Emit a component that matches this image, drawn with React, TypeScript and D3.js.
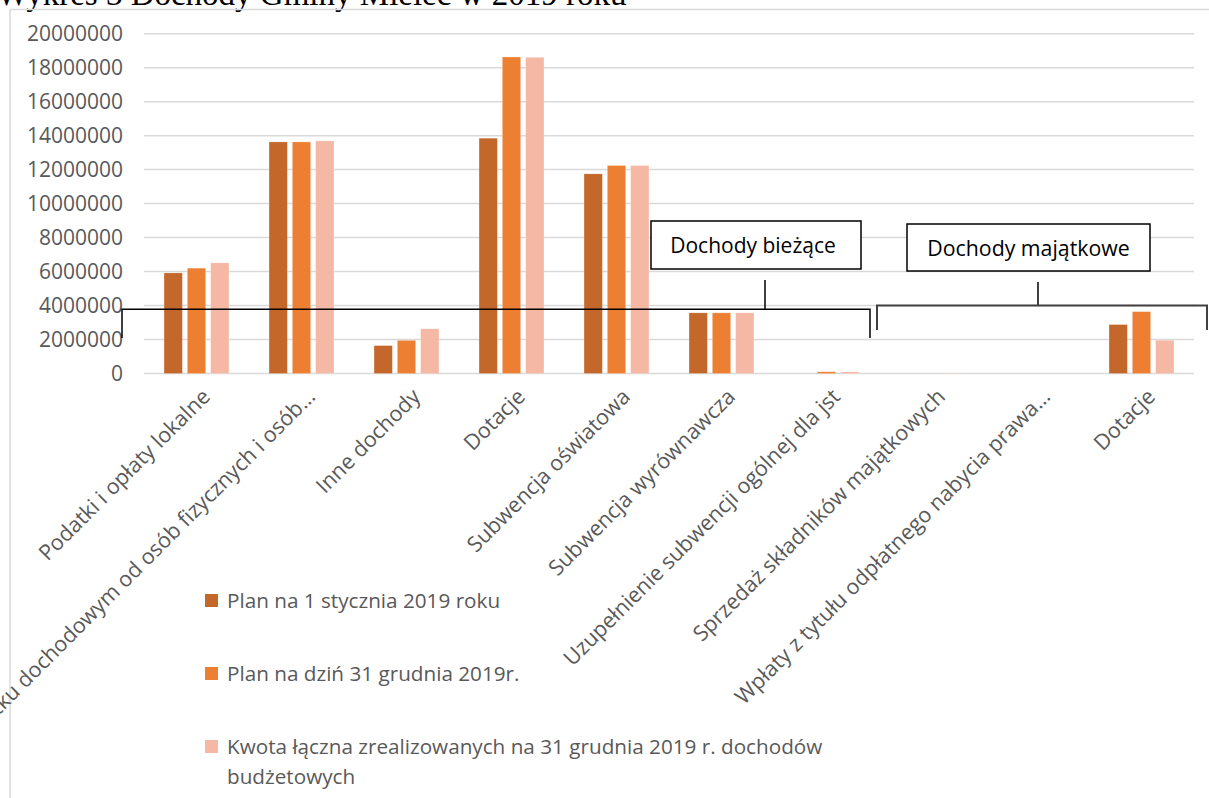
import React from "react";
import * as d3 from "d3";

const categories = [
  "Podatki i opłaty lokalne",
  "Udział w podatku dochodowym od osób fizycznych i osób…",
  "Inne dochody",
  "Dotacje",
  "Subwencja oświatowa",
  "Subwencja wyrównawcza",
  "Uzupełnienie subwencji ogólnej dla jst",
  "Sprzedaż składników majątkowych",
  "Wpłaty z tytułu odpłatnego nabycia prawa…",
  "Dotacje",
];

const planStart = [5920000, 13630000, 1640000, 13850000, 11750000, 3570000, 0, 0, 0, 2880000];
const planEnd = [6200000, 13630000, 1950000, 18630000, 12240000, 3570000, 100000, 0, 0, 3640000];
const realized = [6510000, 13690000, 2630000, 18610000, 12240000, 3570000, 95000, 20000, 0, 1960000];

const seriesNames = [
  "Plan na 1 stycznia 2019 roku",
  "Plan na dziń 31 grudnia 2019r.",
  "Kwota łączna zrealizowanych na 31 grudnia 2019 r. dochodów budżetowych",
];
const legendLines = [
  ["Plan na 1 stycznia 2019 roku"],
  ["Plan na dziń 31 grudnia 2019r."],
  ["Kwota łączna zrealizowanych na 31 grudnia 2019 r. dochodów", "budżetowych"],
];
const seriesColors = ["#C4672A", "#ED7F33", "#F4B8A4"];
const yTicks = [0, 2000000, 4000000, 6000000, 8000000, 10000000, 12000000, 14000000, 16000000, 18000000, 20000000];

const title = "Wykres 3 Dochody Gminy Mielec w 2019 roku";
const groupLabels = ["Dochody bieżące", "Dochody majątkowe"];

const W = 1209;
const H = 798;
const FONT = "'Open Sans', 'Noto Sans', sans-serif";

export default function App() {
  const series = [planStart, planEnd, realized];
  const x = d3.scaleBand<number>().domain(d3.range(categories.length)).range([144, 1194]);
  const y = d3.scaleLinear().domain([0, 20000000]).range([373.5, 33.7]);
  const barW = 18.3;
  const pitch = 23.3;

  const cx = (i: number) => (x(i) as number) + x.bandwidth() / 2;

  return (
    <svg
      width={W}
      height={H}
      style={{ position: "absolute", left: 0, top: 0, background: "#fff" }}
      fontFamily={FONT}
    >
      {/* title (mostly cut off) */}
      <text x={-3} y={5} fontFamily="'Liberation Serif', 'Times New Roman', serif" fontSize={33} fill="#000">
        {title}
      </text>
      {/* chart frame */}
      <line x1={10} x2={W} y1={9.5} y2={9.5} stroke="#D9D9D9" strokeWidth={1.5} />
      <line x1={10} x2={10} y1={9.5} y2={H} stroke="#D9D9D9" strokeWidth={1.5} />

      {/* gridlines */}
      {yTicks.map((t) => (
        <line key={t} x1={144} x2={1194} y1={y(t)} y2={y(t)} stroke="#D9D9D9" strokeWidth={1.5} />
      ))}
      {/* y labels */}
      {yTicks.map((t) => (
        <text key={t} x={123} y={y(t)} dy="0.36em" textAnchor="end" fontSize={21} fill="#595959">
          {String(t)}
        </text>
      ))}

      {/* bars */}
      {series.map((vals, s) =>
        vals.map((v, i) => {
          if (v <= 0) return null;
          const bx = cx(i) + (s - 1) * pitch - barW / 2;
          return (
            <rect
              key={`${s}-${i}`}
              x={bx}
              y={y(v)}
              width={barW}
              height={y(0) - y(v)}
              fill={seriesColors[s]}
              stroke="#fff"
              strokeOpacity={0.35}
              strokeWidth={0.6}
            />
          );
        })
      )}

      {/* category labels */}
      {categories.map((c, i) => (
        <text
          key={i}
          transform={`translate(${cx(i) + 15},${398}) rotate(-45)`}
          textAnchor="end"
          fontSize={21.5}
          fill="#595959"
        >
          {c}
        </text>
      ))}

      {/* bracket: Dochody bieżące */}
      <g stroke="#000" strokeWidth={1.5} fill="none">
        <path d={`M122,338 V${y(3780000)} H870 V338`} />
        <line x1={765} x2={765} y1={280} y2={y(3780000)} />
        <rect x={651} y={221} width={210} height={48} fill="#fff" />
      </g>
      <text x={753} y={245} dy="0.36em" textAnchor="middle" fontSize={21} fill="#000">
        {groupLabels[0]}
      </text>

      {/* bracket: Dochody majątkowe */}
      <g stroke="#404040" strokeWidth={2} fill="none">
        <path d={`M877,330 V${y(4000000)} H1207 V330`} />
        <line x1={1038} x2={1038} y1={282} y2={y(4000000)} />
      </g>
      <rect x={907} y={224} width={243} height={47} fill="#fff" stroke="#000" strokeWidth={1.5} />
      <text x={1028.5} y={248} dy="0.36em" textAnchor="middle" fontSize={21.3} fill="#000">
        {groupLabels[1]}
      </text>

      {/* legend */}
      {legendLines.map((lines, s) => {
        const ly = 601 + s * 73;
        return (
          <g key={s}>
            <rect x={205} y={ly - 7} width={13} height={13} fill={seriesColors[s]} />
            {lines.map((ln, k) => (
              <text key={k} x={227} y={ly + k * 30} dy="0.36em" fontSize={20.7} fill="#595959">
                {ln}
              </text>
            ))}
          </g>
        );
      })}
      <title>{seriesNames.join(", ")}</title>
    </svg>
  );
}
